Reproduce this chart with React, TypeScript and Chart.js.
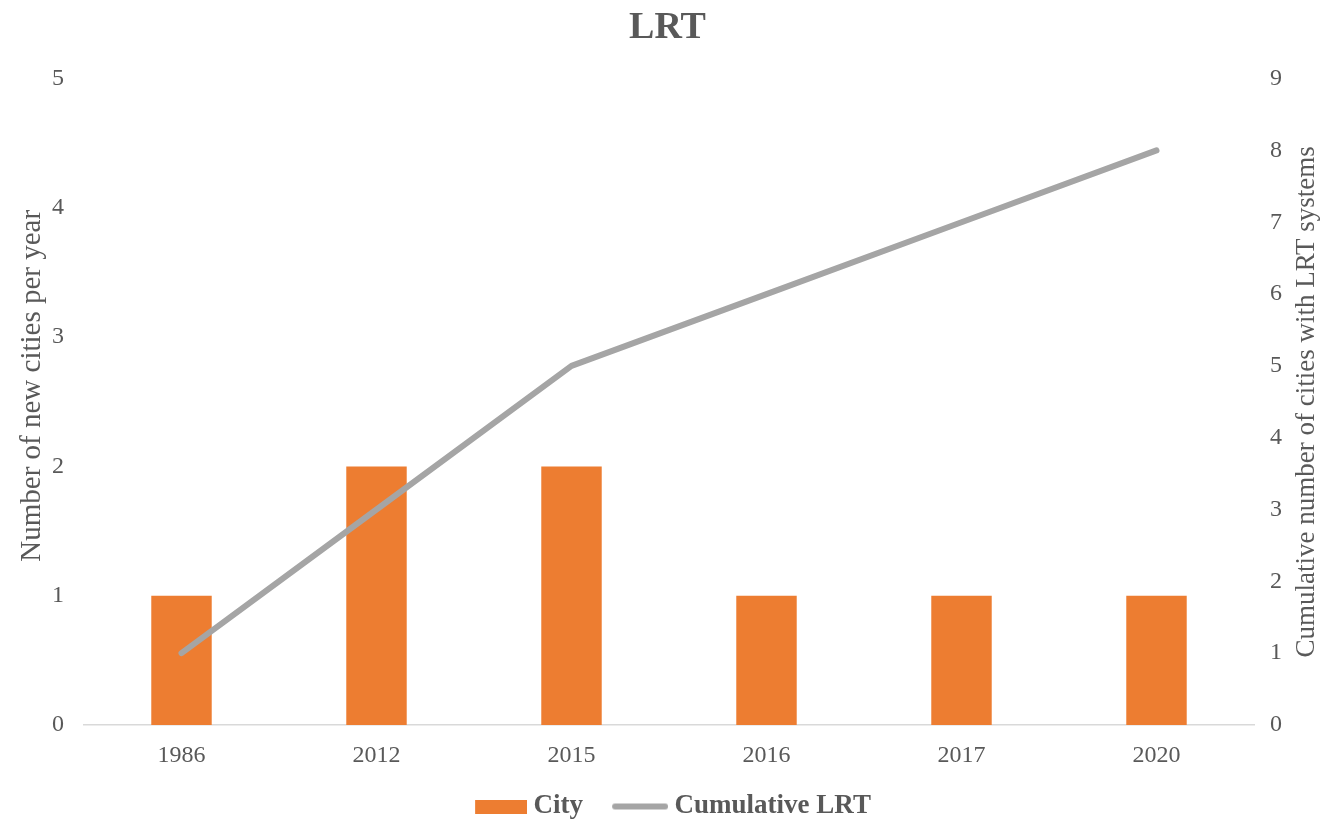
import React, { useEffect, useRef } from "react";
import { Chart, registerables } from "chart.js";

Chart.register(...registerables);

const categories = ["1986", "2012", "2015", "2016", "2017", "2020"];
const cityValues = [1, 2, 2, 1, 1, 1];
const cumulativeValues = [1, 3, 5, 6, 7, 8];
const leftTicks = [0, 1, 2, 3, 4, 5];
const rightTicks = [0, 1, 2, 3, 4, 5, 6, 7, 8, 9];
const leftTitle = "Number of new cities per year";
const rightTitle = "Cumulative number of cities with LRT systems";

const ORANGE = "#ED7D31";
const GRAY = "#A5A5A5";
const TEXT = "#595959";
const FONT = "'Liberation Serif', 'Times New Roman', serif";

const BOX_W = 56;
const EXTRA = 7;

function makeRectIcon(): HTMLCanvasElement {
  const c = document.createElement("canvas");
  c.width = BOX_W + EXTRA * 2;
  c.height = 14;
  const ctx = c.getContext("2d")!;
  ctx.fillStyle = ORANGE;
  ctx.fillRect(c.width - 52, 0, 52, 14);
  return c;
}

function makeLineIcon(): HTMLCanvasElement {
  const c = document.createElement("canvas");
  c.width = BOX_W + EXTRA * 2;
  c.height = 10;
  const ctx = c.getContext("2d")!;
  ctx.strokeStyle = GRAY;
  ctx.lineWidth = 6;
  ctx.lineCap = "round";
  ctx.beginPath();
  ctx.moveTo(c.width - 56 + 3, 5);
  ctx.lineTo(c.width - 3, 5);
  ctx.stroke();
  return c;
}

const axisTitlePlugin = {
  id: "axisTitles",
  afterDraw(chart: any) {
    const ctx = chart.ctx as CanvasRenderingContext2D;
    const area = chart.chartArea;
    const yR = chart.scales.y1;
    const midY = (area.top + area.bottom) / 2;
    ctx.save();
    ctx.fillStyle = TEXT;
    ctx.textAlign = "center";
    ctx.textBaseline = "middle";

    ctx.font = `29px ${FONT}`;
    ctx.save();
    ctx.translate(area.left - 52, midY - 16);
    ctx.rotate(-Math.PI / 2);
    ctx.fillText(leftTitle, 0, 0);
    ctx.restore();

    ctx.font = `27px ${FONT}`;
    ctx.save();
    ctx.translate(yR.left + 53, midY);
    ctx.rotate(-Math.PI / 2);
    ctx.fillText(rightTitle, 0, 0);
    ctx.restore();

    ctx.restore();
  },
};

export default function App() {
  const ref = useRef<HTMLCanvasElement | null>(null);

  useEffect(() => {
    if (!ref.current) return;
    const icons = [makeRectIcon(), makeLineIcon()];
    const chart = new Chart(ref.current, {
      type: "bar",
      data: {
        labels: categories,
        datasets: [
          {
            type: "bar",
            label: "City",
            data: cityValues,
            backgroundColor: ORANGE,
            borderWidth: 0,
            barPercentage: 0.31,
            categoryPercentage: 1,
            yAxisID: "y",
            order: 1,
          },
          {
            type: "line",
            label: "Cumulative LRT",
            data: cumulativeValues,
            borderColor: GRAY,
            backgroundColor: GRAY,
            borderWidth: 6,
            borderCapStyle: "round",
            borderJoinStyle: "round",
            pointRadius: 0,
            pointHoverRadius: 0,
            tension: 0,
            yAxisID: "y1",
            order: 0,
          } as any,
        ],
      },
      plugins: [axisTitlePlugin],
      options: {
        animation: false,
        responsive: true,
        maintainAspectRatio: false,
        layout: { padding: { left: 6, right: 0, top: 0, bottom: -11 } },
        plugins: {
          title: {
            display: true,
            text: "LRT",
            color: TEXT,
            font: { family: FONT, size: 38, weight: "bold" },
            padding: { top: 5, bottom: 28 },
          },
          legend: {
            position: "bottom",
            labels: {
              usePointStyle: true,
              pointStyleWidth: BOX_W,
              color: TEXT,
              font: { family: FONT, size: 27, weight: "bold" },
              padding: 22,
              sort: (a: any, b: any) => a.datasetIndex - b.datasetIndex,
              generateLabels: (ch: any) => {
                const items = Chart.defaults.plugins.legend.labels.generateLabels(ch);
                return items.map((it: any) => ({
                  ...it,
                  pointStyle: icons[it.datasetIndex],
                  lineWidth: 0,
                }));
              },
            },
          },
          tooltip: { enabled: false },
        },
        scales: {
          x: {
            grid: { display: false, drawTicks: false },
            border: { display: true, color: "#D9D9D9", width: 1.5 },
            ticks: {
              color: TEXT,
              font: { family: FONT, size: 24 },
              padding: 16,
            },
            afterFit: (s: any) => {
              s.height = 46;
            },
          },
          y: {
            position: "left",
            min: 0,
            max: 5,
            afterBuildTicks: (axis: any) => {
              axis.ticks = leftTicks.map((v) => ({ value: v }));
            },
            afterFit: (s: any) => {
              s.width = 78;
            },
            grid: { display: false, drawTicks: false },
            border: { display: false },
            ticks: {
              color: TEXT,
              font: { family: FONT, size: 24 },
              padding: 20,
            },
          },
          y1: {
            position: "right",
            min: 0,
            max: 9,
            afterBuildTicks: (axis: any) => {
              axis.ticks = rightTicks.map((v) => ({ value: v }));
            },
            afterFit: (s: any) => {
              s.width = 75;
            },
            grid: { display: false, drawTicks: false },
            border: { display: false },
            ticks: {
              color: TEXT,
              font: { family: FONT, size: 24 },
              padding: 16,
            },
          },
        },
      },
    });
    return () => chart.destroy();
  }, []);

  return (
    <div style={{ position: "absolute", left: 0, top: 0, width: 1329, height: 819, background: "#fff" }}>
      <canvas ref={ref} />
    </div>
  );
}
